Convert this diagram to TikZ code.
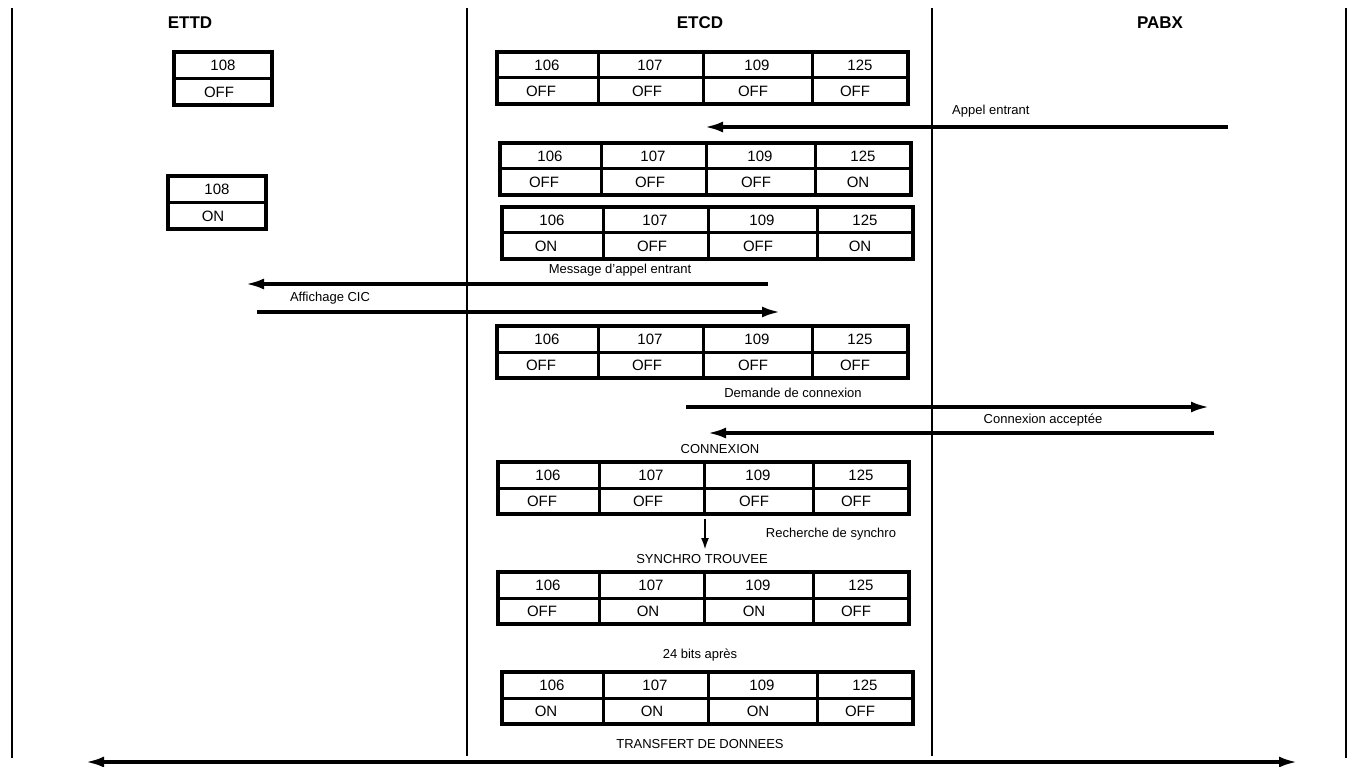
\documentclass[tikz,border=0pt]{standalone}
\usepackage{fontspec}
\setmainfont{Liberation Sans}
\usetikzlibrary{arrows.meta}
\tikzset{
  life/.style={line width=2pt},
  sig/.style={line width=3.2pt,-{Latex[length=18pt,width=11pt]}},
  lbl/.style={font=\fontsize{13}{13}\selectfont,inner sep=0pt},
  cell/.style={font=\fontsize{15}{15}\selectfont,inner sep=0pt},
  hdr/.style={font=\bfseries\fontsize{17}{17}\selectfont,inner sep=0pt}
}
\newcommand\sigtab[7]{%
  \draw[line width=3.6pt] (#2,#3) rectangle ++(411,52);
  \draw[line width=3pt] (#2,#3+26) -- ++(411,0);
  \foreach \c in {101,206,315}{\draw[line width=3pt] (#2+\c,#3) -- ++(0,52);}
  \node[cell] (#1a) at (#2+50,#3+13.5) {106};
  \node[cell] (#1b) at (#2+153,#3+13.5) {107};
  \node[cell] (#1c) at (#2+260,#3+13.5) {109};
  \node[cell] (#1d) at (#2+363,#3+13.5) {125};
  \node[cell] (#1e) at (#2+44,#3+39.5) {#4};
  \node[cell] (#1f) at (#2+150,#3+39.5) {#5};
  \node[cell] (#1g) at (#2+256,#3+39.5) {#6};
  \node[cell] (#1h) at (#2+358,#3+39.5) {#7};
}
\newcommand\smalltab[4]{%
  \draw[line width=3.6pt] (#2,#3) rectangle ++(98,53);
  \draw[line width=3pt] (#2,#3+27) -- ++(98,0);
  \node[cell] (#1a) at (#2+49,#3+13.5) {108};
  \node[cell] (#1b) at (#2+45,#3+40) {#4};
}
\begin{document}
\begin{tikzpicture}[x=1pt,y=-1pt]
\useasboundingbox (0,0) rectangle (1357,767);
% lifelines
\coordinate (l1a) at (12,8); \coordinate (l1b) at (12,758);
\coordinate (l2a) at (467,8); \coordinate (l2b) at (467,756);
\coordinate (l3a) at (932,8); \coordinate (l3b) at (932,756);
\coordinate (l4a) at (1346,8); \coordinate (l4b) at (1346,758);
\draw[life] (l1a)--(l1b); \draw[life] (l2a)--(l2b);
\draw[life] (l3a)--(l3b); \draw[life] (l4a)--(l4b);
\node[hdr] (h1) at (190,23) {ETTD};
\node[hdr] (h2) at (700,23) {ETCD};
\node[hdr] (h3) at (1160,23) {PABX};
% tables
\smalltab{s1}{174}{52}{OFF}
\smalltab{s2}{168}{176}{ON}
\sigtab{t1}{497}{52}{OFF}{OFF}{OFF}{OFF}
\sigtab{t2}{500}{143}{OFF}{OFF}{OFF}{ON}
\sigtab{t3}{502}{207}{ON}{OFF}{OFF}{ON}
\sigtab{t4}{497}{326}{OFF}{OFF}{OFF}{OFF}
\sigtab{t5}{498}{462}{OFF}{OFF}{OFF}{OFF}
\sigtab{t6}{498}{572}{OFF}{ON}{ON}{OFF}
\sigtab{t7}{502}{672}{ON}{ON}{ON}{OFF}
% signals
\coordinate (a1s) at (1228,127); \coordinate (a1e) at (705,127);
\draw[sig] (a1s)--(a1e);
\node[lbl,anchor=west] (n1) at (952,111) {Appel entrant};
\coordinate (a2s) at (768,284); \coordinate (a2e) at (246,284);
\draw[sig] (a2s)--(a2e);
\node[lbl] (n2) at (620,270) {Message d’appel entrant};
\coordinate (a3s) at (257,312); \coordinate (a3e) at (780,312);
\draw[sig] (a3s)--(a3e);
\node[lbl] (n3) at (330,298) {Affichage CIC};
\coordinate (a4s) at (686,407); \coordinate (a4e) at (1209,407);
\draw[sig] (a4s)--(a4e);
\node[lbl] (n4) at (793,393) {Demande de connexion};
\coordinate (a5s) at (1214,433); \coordinate (a5e) at (708,433);
\draw[sig] (a5s)--(a5e);
\node[lbl] (n5) at (1043,420) {Connexion acceptée};
\node[lbl] (n6) at (720,449) {CONNEXION};
\coordinate (a6s) at (705,519); \coordinate (a6e) at (705,550);
\draw[line width=2.2pt,-{Latex[length=12pt,width=8pt]}] (a6s)--(a6e);
\node[lbl] (n7) at (831,534) {Recherche de synchro};
\node[lbl] (n8) at (702,559) {SYNCHRO TROUVEE};
\node[lbl] (n9) at (700,655) {24 bits après};
\node[lbl] (n10) at (700,744) {TRANSFERT DE DONNEES};
\coordinate (bl) at (86,762); \coordinate (br) at (1297,762);
\draw[sig,{Latex[length=18pt,width=11pt]}-{Latex[length=18pt,width=11pt]}] (bl)--(br);
\end{tikzpicture}
\end{document}
